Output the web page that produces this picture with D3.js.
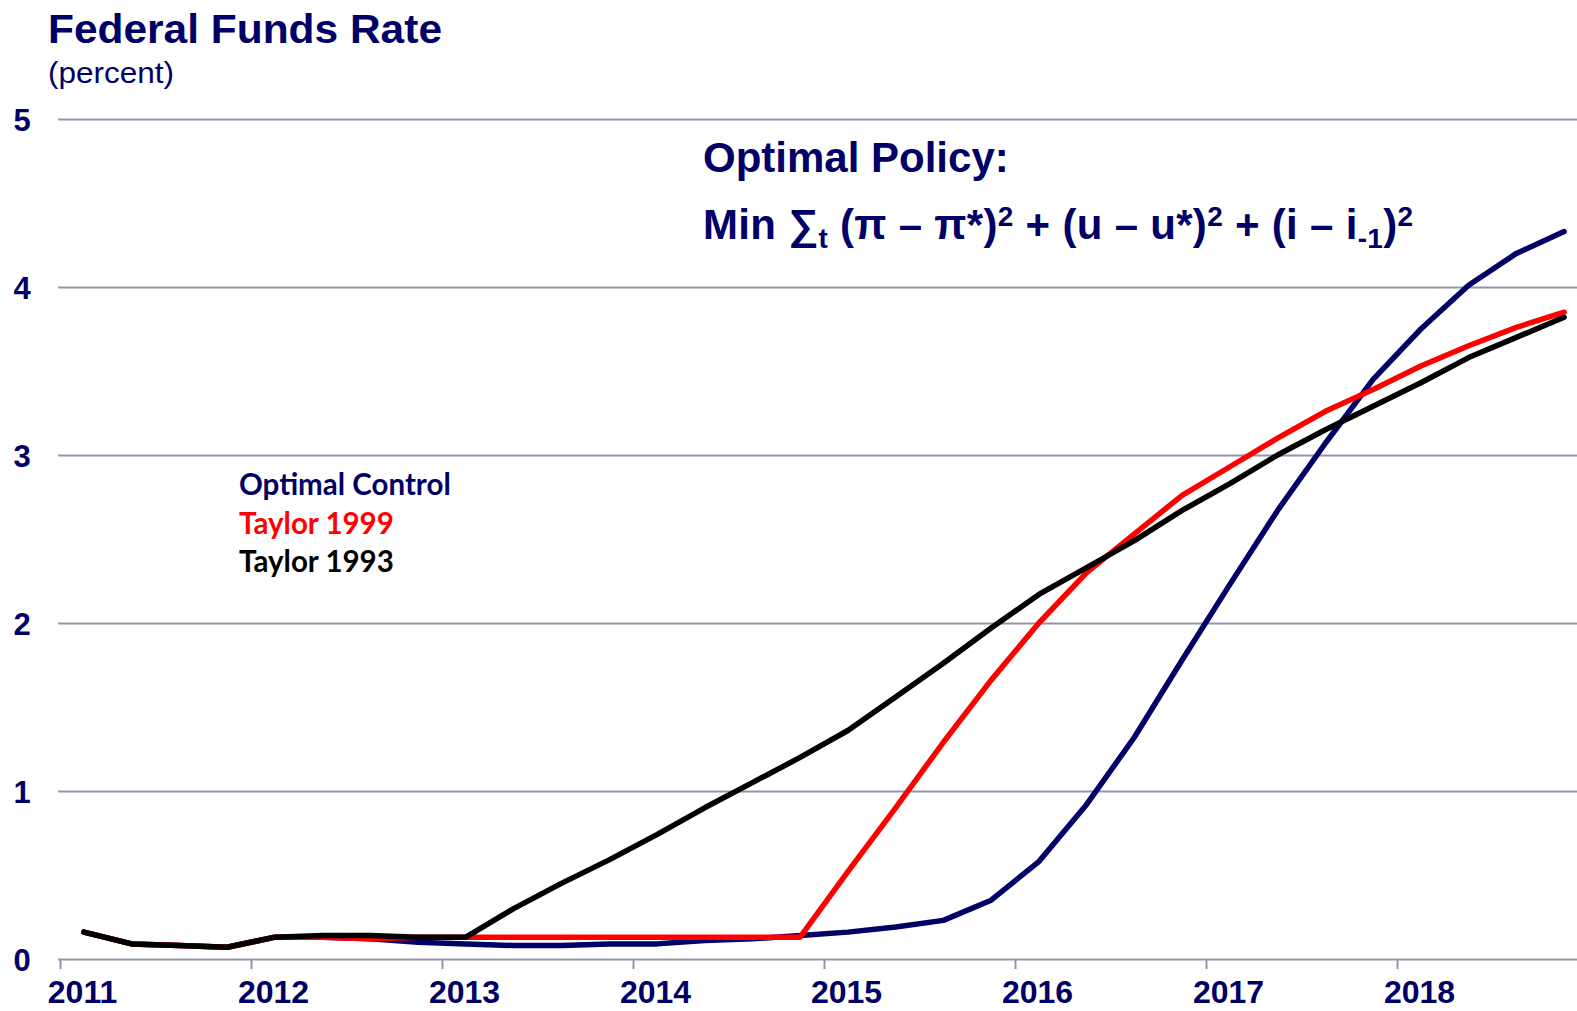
<!DOCTYPE html>
<html>
<head>
<meta charset="utf-8">
<script src="https://cdn.jsdelivr.net/npm/d3@7"></script>
<style>
  body { margin: 0; background: #fff; }
  svg text { font-family: "Liberation Sans", Arial, sans-serif; }
</style>
</head>
<body>
<div id="chart"></div>
<script>
// years on the axis
const years = [2011, 2012, 2013, 2014, 2015, 2016, 2017, 2018];
// quarters 2011Q1 .. 2018Q4
const quarters = [
  "2011Q1", "2011Q2", "2011Q3", "2011Q4", "2012Q1", "2012Q2", "2012Q3", "2012Q4",
  "2013Q1", "2013Q2", "2013Q3", "2013Q4", "2014Q1", "2014Q2", "2014Q3", "2014Q4",
  "2015Q1", "2015Q2", "2015Q3", "2015Q4", "2016Q1", "2016Q2", "2016Q3", "2016Q4",
  "2017Q1", "2017Q2", "2017Q3", "2017Q4", "2018Q1", "2018Q2", "2018Q3", "2018Q4"
];
const optimalControl = [
  0.16, 0.09, 0.08, 0.07, 0.13, 0.13, 0.12, 0.10,
  0.09, 0.08, 0.08, 0.09, 0.09, 0.11, 0.12, 0.14,
  0.16, 0.19, 0.23, 0.35, 0.58, 0.92, 1.32, 1.78,
  2.23, 2.67, 3.07, 3.45, 3.75, 4.01, 4.20, 4.33
];
const taylor1999 = [
  0.16, 0.09, 0.08, 0.07, 0.13, 0.13, 0.12, 0.13,
  0.13, 0.13, 0.13, 0.13, 0.13, 0.13, 0.13, 0.13,
  0.52, 0.90, 1.29, 1.66, 2.00, 2.30, 2.53, 2.76,
  2.93, 3.10, 3.26, 3.39, 3.53, 3.65, 3.76, 3.85
];
const taylor1993 = [
  0.16, 0.09, 0.08, 0.07, 0.13, 0.14, 0.14, 0.13,
  0.13, 0.30, 0.45, 0.59, 0.74, 0.90, 1.05, 1.20,
  1.36, 1.56, 1.76, 1.97, 2.17, 2.33, 2.49, 2.67,
  2.83, 3.00, 3.15, 3.29, 3.43, 3.58, 3.70, 3.82
];
const yTicks = [0, 1, 2, 3, 4, 5];

const navy = "#000066";
const width = 1577, height = 1011;

const svg = d3.select("#chart")
  .append("svg")
  .attr("width", width)
  .attr("height", height);

// scales
const x = d3.scaleLinear().domain([2011, 2019]).range([60, 1588]);
const y = d3.scaleLinear().domain([0, 5]).range([959, 119]);

// quarter -> decimal year (middle of the quarter)
const qPos = q => +q.slice(0, 4) + (+q.slice(5) - 0.5) / 4;

// gridlines + y labels
const yAxisGroup = svg.append("g").attr("transform", "translate(58,0)");
yAxisGroup.call(d3.axisLeft(y).tickValues(yTicks).tickSize(-(width - 58)).tickFormat(d3.format("d")));
yAxisGroup.select(".domain").remove();
yAxisGroup.selectAll(".tick line")
  .attr("stroke", "#9494ad")
  .attr("stroke-width", 2);
yAxisGroup.selectAll(".tick text")
  .attr("x", -36)
  .attr("dy", "0.36em")
  .attr("text-anchor", "middle")
  .attr("fill", navy)
  .style("font-size", "31px")
  .style("font-weight", "bold");

// x axis
const xAxisGroup = svg.append("g").attr("transform", `translate(0, ${y(0)})`);
xAxisGroup.call(d3.axisBottom(x).tickValues(years).tickSize(10).tickFormat(d3.format("d")));
xAxisGroup.select(".domain").remove();
xAxisGroup.selectAll(".tick line")
  .attr("stroke", "#9494ad")
  .attr("stroke-width", 2);
xAxisGroup.selectAll(".tick text")
  .attr("x", 22)
  .attr("y", 44)
  .attr("dy", 0)
  .attr("text-anchor", "middle")
  .attr("fill", navy)
  .style("font-family", "'Liberation Sans Narrow', 'Arial Narrow', 'Liberation Sans', sans-serif")
  .style("font-size", "32px")
  .style("font-weight", "bold");

// lines
const line = d3.line()
  .x((d, i) => x(qPos(quarters[i])))
  .y(d => y(d));

const series = [
  { name: "Optimal Control", values: optimalControl, color: navy },
  { name: "Taylor 1999", values: taylor1999, color: "#ff0000" },
  { name: "Taylor 1993", values: taylor1993, color: "#000000" }
];

svg.append("g")
  .selectAll("path")
  .data(series)
  .enter()
  .append("path")
  .attr("d", d => line(d.values))
  .attr("fill", "none")
  .attr("stroke", d => d.color)
  .attr("stroke-width", 5.5)
  .attr("stroke-linejoin", "round")
  .attr("stroke-linecap", "round");

// legend (text only)
svg.append("g")
  .selectAll("text")
  .data(series)
  .enter()
  .append("text")
  .attr("x", 239)
  .attr("y", (d, i) => 495 + i * 38.5)
  .attr("fill", d => d.color)
  .style("font-family", "Lato, 'Open Sans', sans-serif")
  .style("font-size", "29.5px")
  .style("font-weight", "bold")
  .text(d => d.name);

// titles
svg.append("text")
  .attr("x", 48).attr("y", 43)
  .attr("fill", navy)
  .attr("textLength", 394)
  .attr("lengthAdjust", "spacingAndGlyphs")
  .style("font-size", "40px")
  .style("font-weight", "bold")
  .text("Federal Funds Rate");

svg.append("text")
  .attr("x", 48).attr("y", 83)
  .attr("fill", navy)
  .attr("textLength", 126)
  .attr("lengthAdjust", "spacingAndGlyphs")
  .style("font-size", "29px")
  .text("(percent)");

// annotation
svg.append("text")
  .attr("x", 703).attr("y", 172)
  .attr("fill", navy)
  .style("font-size", "42px")
  .style("font-weight", "bold")
  .text("Optimal Policy:");

// formula pieces: text, vertical shift, small
const formulaParts = [
  ["Min \u2211", 0, false],
  ["t", 9, true],
  [" (\u03c0 \u2013 \u03c0*)", -9, false],
  ["2", -13, true],
  [" + (u \u2013 u*)", 13, false],
  ["2", -13, true],
  [" + (i \u2013 i", 13, false],
  ["-1", 9, true],
  [")", -9, false],
  ["2", -13, true]
];
const formula = svg.append("text")
  .attr("x", 703).attr("y", 239)
  .attr("fill", navy)
  .attr("textLength", 710)
  .attr("lengthAdjust", "spacing")
  .style("font-size", "42px")
  .style("font-weight", "bold");
formula.selectAll("tspan")
  .data(formulaParts)
  .enter()
  .append("tspan")
  .attr("dy", d => d[1])
  .style("font-size", d => d[2] ? "28px" : null)
  .text(d => d[0]);
</script>
</body>
</html>
